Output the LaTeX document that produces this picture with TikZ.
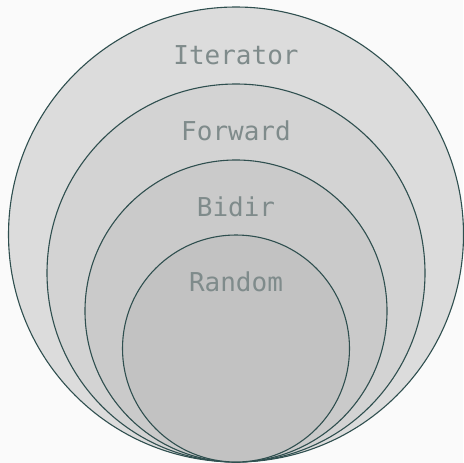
\documentclass[tikz,border=0pt]{standalone}
\usepackage{fontspec}
\setmonofont{DejaVu Sans Mono}
\begin{document}
\begin{tikzpicture}[x=1pt,y=-1pt,
  ring/.style={draw=edgecol,line width=1.1pt},
  lbl/.style={font=\fontsize{26}{30}\selectfont\ttfamily,text=labelcol,anchor=base}]
\definecolor{edgecol}{HTML}{2F4F4F}
\definecolor{labelcol}{HTML}{7F8B8B}
\definecolor{bgcol}{HTML}{FAFAFA}
\definecolor{fillA}{HTML}{DCDCDC}
\definecolor{fillB}{HTML}{D3D3D3}
\definecolor{fillC}{HTML}{CACACA}
\definecolor{fillD}{HTML}{C2C2C2}
\fill[bgcol] (0,0) rectangle (463,463);
\useasboundingbox (0,0) rectangle (463,463);
% nested iterator categories, all touching at the bottom
\filldraw[ring,fill=fillA] (236,234.5) circle (227.5);
\filldraw[ring,fill=fillB] (236,273) circle (189);
\filldraw[ring,fill=fillC] (236,311) circle (151);
\filldraw[ring,fill=fillD] (236,348.5) circle (113.5);
\node[lbl] (it) at (236,64) {Iterator};
\node[lbl] (fw) at (236,140) {Forward};
\node[lbl] (bi) at (236,216) {Bidir};
\node[lbl] (ra) at (236,291) {Random};
\end{tikzpicture}
\end{document}
